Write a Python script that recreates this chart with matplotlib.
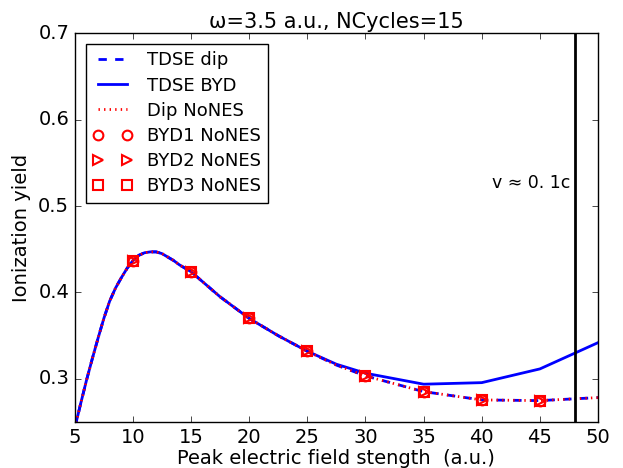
import matplotlib
matplotlib.use("Agg")
import matplotlib.pyplot as plt

plt.style.use('classic')
plt.rcParams['mathtext.fontset'] = 'dejavusans'
plt.rcParams['font.family'] = ['DejaVu Sans']

field = [5, 5.5, 6, 6.5, 7, 7.5, 8, 8.5, 9, 9.5, 10, 10.5, 11, 11.5, 12, 12.5, 13, 13.5, 14, 14.5, 15,
         17.5, 20, 22.5, 25, 27.5, 30, 35, 40, 45, 50]
tdse_dip = [0.243, 0.271, 0.298, 0.323, 0.347, 0.370, 0.390, 0.405, 0.417, 0.428, 0.437, 0.443, 0.446,
            0.447, 0.447, 0.445, 0.441, 0.437, 0.432, 0.428, 0.424,
            0.395, 0.370, 0.350, 0.332, 0.316, 0.3035, 0.2853, 0.2757, 0.2749, 0.2784]
tdse_byd = [0.243, 0.271, 0.298, 0.323, 0.347, 0.370, 0.390, 0.405, 0.417, 0.428, 0.437, 0.443, 0.446,
            0.447, 0.447, 0.445, 0.441, 0.437, 0.432, 0.428, 0.424,
            0.395, 0.370, 0.350, 0.332, 0.317, 0.3066, 0.2939, 0.2957, 0.3116, 0.342]
dip_nones = [0.243, 0.271, 0.298, 0.323, 0.347, 0.370, 0.390, 0.405, 0.417, 0.428, 0.437, 0.443, 0.446,
             0.447, 0.447, 0.445, 0.441, 0.437, 0.432, 0.428, 0.424,
             0.395, 0.370, 0.350, 0.332, 0.316, 0.3035, 0.2853, 0.2757, 0.2749, 0.2784]
marker_field = [10, 15, 20, 25, 30, 35, 40, 45]
byd1_nones = [0.437, 0.424, 0.370, 0.332, 0.3035, 0.2853, 0.2757, 0.2749]
byd2_nones = [0.437, 0.424, 0.370, 0.332, 0.3035, 0.2853, 0.2757, 0.2749]
byd3_nones = [0.437, 0.424, 0.370, 0.332, 0.3035, 0.2853, 0.2757, 0.2749]
v_limit = 48

fig = plt.figure(figsize=(6.23, 4.68), dpi=100, facecolor='white')
ax = fig.add_axes([0.120, 0.098, 0.840, 0.831])

ax.plot(field, tdse_dip, 'b--', lw=2, label='TDSE dip')
ax.plot(field, tdse_byd, 'b-', lw=2, label='TDSE BYD')
ax.plot(field, dip_nones, 'r:', lw=2, label='Dip NoNES')
ax.plot(marker_field, byd1_nones, 'o', ls='none', mfc='none', mec='r', mew=1.5, ms=7, label='BYD1 NoNES')
ax.plot(marker_field, byd2_nones, '>', ls='none', mfc='none', mec='r', mew=1.5, ms=7, label='BYD2 NoNES')
ax.plot(marker_field, byd3_nones, 's', ls='none', mfc='none', mec='r', mew=1.5, ms=7, label='BYD3 NoNES')
ax.axvline(v_limit, color='k', lw=2)
ax.text(47.6, 0.527, 'v ≈ 0. 1c', ha='right', va='center', fontsize=12.5)

ax.set_xlim(5, 50)
ax.set_ylim(0.25, 0.7)
ax.set_xticks(range(5, 51, 5))
ax.set_yticks([0.3, 0.4, 0.5, 0.6, 0.7])
ax.tick_params(labelsize=14, direction='in')
ax.set_xlabel('Peak electric field stength  (a.u.)', fontsize=14, labelpad=2)
ax.set_ylabel('Ionization yield', fontsize=14)
ax.set_title('ω=3.5 a.u., NCycles=15', fontsize=15, pad=4)

ax.legend(loc='upper left', fontsize=13, numpoints=2, frameon=True, fancybox=False,
          borderaxespad=0.6, handlelength=2.2, labelspacing=0.4)

fig.savefig('out.png', dpi=100, facecolor='white')
